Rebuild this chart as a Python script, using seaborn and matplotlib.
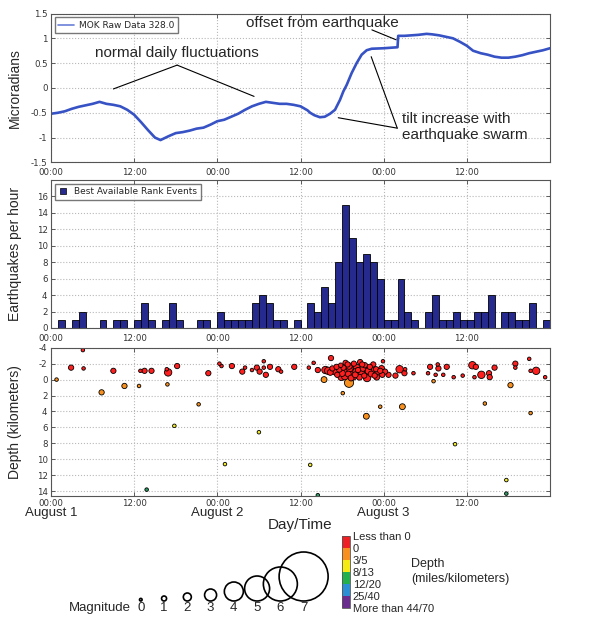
import numpy as np
import pandas as pd
import matplotlib
matplotlib.use("Agg")
import matplotlib.pyplot as plt
import seaborn as sns
from matplotlib.colors import ListedColormap, BoundaryNorm
from matplotlib.cm import ScalarMappable
from matplotlib.lines import Line2D

sns.set_theme(style="white")
plt.rcParams["font.family"] = ["Liberation Sans", "DejaVu Sans"]
plt.rcParams["axes.unicode_minus"] = False

# ---------------- data ----------------
tilt_hours = [0, 1, 2, 3, 4, 5, 6, 7, 8, 9, 10, 11, 12, 13, 14, 15, 15.8, 17, 18, 19, 20, 21, 22,
              23, 24, 25, 26, 27, 28, 29, 30, 31, 32, 33, 34, 35, 36, 37, 37.4, 38, 38.8, 39.5,
              40.26, 40.98, 41.7, 42.18, 42.66, 43.38, 44.1, 44.82, 45.55, 46.27, 48, 50.0,
              50.1, 51, 52, 53, 54.2, 55, 56, 57, 58, 59, 60, 60.9, 62, 63, 64, 65, 66, 67,
              68, 69, 70, 71, 72]
tilt_values = [-0.52, -0.50, -0.47, -0.42, -0.38, -0.35, -0.32, -0.28, -0.32, -0.34, -0.37, -0.44,
               -0.54, -0.69, -0.85, -1.00, -1.05, -0.97, -0.91, -0.89, -0.86, -0.82, -0.80,
               -0.74, -0.67, -0.64, -0.58, -0.52, -0.44, -0.37, -0.32, -0.28, -0.30, -0.32, -0.32,
               -0.34, -0.37, -0.45, -0.50, -0.55, -0.59, -0.58,
               -0.52, -0.44, -0.24, -0.07, 0.06, 0.30, 0.50, 0.67, 0.76, 0.79, 0.80, 0.82,
               1.05, 1.05, 1.06, 1.07, 1.09, 1.08, 1.06, 1.03, 1.00, 0.93, 0.85, 0.75, 0.70,
               0.67, 0.63, 0.61, 0.61, 0.63, 0.66, 0.70, 0.73, 0.76, 0.80]

hist_hours = list(range(72))
hist_counts = [0, 1, 0, 1, 2, 0, 0, 1, 0, 1, 1, 0, 1, 3, 1, 0, 1, 3, 1, 0, 0, 1, 1, 0,
               2, 1, 1, 1, 1, 3, 4, 3, 1, 1, 0, 1, 0, 3, 2, 5, 3, 8, 15, 11, 8, 9, 8, 6,
               1, 1, 6, 2, 1, 0, 2, 4, 1, 1, 2, 1, 1, 2, 2, 4, 0, 2, 2, 1, 1, 3, 0, 1]

eq_hours = [0.8, 2.9, 4.6, 4.7, 7.3, 9.0, 10.6, 12.7, 12.9, 13.5, 14.5, 13.8, 16.7, 16.9, 16.8,
            18.2, 17.8, 21.3, 22.7, 24.3, 24.6, 25.1, 26.1, 27.6, 28.0, 29.0, 29.7, 30.1, 30.7,
            30.7, 31.0, 31.6, 30.0, 32.8, 33.2, 35.1, 37.2, 37.9, 37.4, 38.5, 38.5, 39.4, 39.6,
            40.4, 43.0, 42.1, 45.5, 45.6, 47.5, 47.9, 48.7, 49.7, 50.3, 50.7, 51.0, 51.1, 52.3,
            54.4, 54.7, 55.2, 55.5, 55.8, 55.9, 56.6, 57.1, 58.1, 58.3, 59.4, 60.8, 61.3, 61.1,
            62.1, 63.2, 63.3, 62.6, 64.0, 65.7, 65.7, 66.3, 67.0, 67.0, 69.0, 69.2, 70.0, 69.2,
            71.3,
            40.0, 40.6, 41.0, 41.3, 41.6, 41.8, 42.0, 42.2, 42.4, 42.6, 42.8, 42.9, 43.1, 43.3,
            43.5, 43.7, 43.9, 44.1, 44.3, 44.6, 44.8, 45.0, 45.2, 45.8, 46.0, 46.2, 46.4, 46.7,
            46.9, 47.2, 47.5, 47.8,
            40.3, 41.2, 41.9, 42.5, 43.0, 43.6, 44.0, 44.5, 45.3, 45.5, 46.5, 47.0, 47.7, 48.2,
            44.9]
eq_depths = [0.0, -1.5, -3.7, -1.4, 1.6, -1.1, 0.8, 0.8, -1.1, -1.1, -1.1, 13.8, -1.3, -0.9, 0.6,
             -1.7, 5.8, 3.1, -0.8, -2.0, -1.7, 10.6, -1.7, -1.0, -1.5, -1.2, -1.5, -1.0, -2.3,
             -1.5, -0.6, -1.6, 6.6, -1.3, -1.0, -1.6, -1.5, -2.1, 10.7, -1.2, 14.5, 0.0, -1.2,
             -2.7, 0.4, 1.7, 4.6, -0.2, 3.4, -2.3, -0.6, -0.5, -1.3, 3.4, -0.8, -1.3, -0.8,
             -0.8, -1.6, 0.2, -0.6, -1.9, -1.4, -0.6, -1.6, -0.3, 8.1, -0.5, -1.8, -1.6, -0.3,
             -0.6, -0.8, -0.3, 3.0, -1.5, 12.6, 14.3, 0.7, -2.0, -1.5, -2.6, -1.1, -1.1, 4.2,
             -0.3,
             -1.1, -1.4, -1.0, -0.6, -1.3, -1.8, -0.8, -1.5, -0.4, -1.1, -1.9, -0.7, -1.4, -0.2,
             -1.0, -2.0, -0.6, -1.5, -1.2, -2.2, -0.9, -1.4, -0.5, -1.1, -1.6, -0.7, -1.2, -0.5,
             -1.3, -0.9, -1.1, -0.6,
             -0.9, -1.6, -0.3, -2.1, -1.7, -0.4, -1.0, -0.3, -1.8, -1.0, -1.9, -0.3, -1.4, -1.0,
             -1.9]
eq_mags = [0.4, 1.1, 0.4, 0.4, 1.1, 1.1, 1.1, 0.4, 0.4, 1.1, 1.1, 0.4, 0.4, 1.8, 0.4,
           1.1, 0.4, 0.4, 1.1, 0.4, 0.4, 0.4, 1.1, 1.1, 0.4, 0.4, 1.1, 1.1, 0.4,
           0.4, 1.1, 1.1, 0.4, 1.1, 0.4, 1.1, 0.4, 0.4, 0.4, 1.1, 0.4, 1.3, 1.8,
           1.1, 2.3, 0.4, 1.3, 1.8, 0.4, 0.4, 1.1, 1.1, 1.8, 1.3, 1.1, 0.4, 0.4,
           0.4, 1.1, 0.4, 0.4, 0.4, 1.1, 0.4, 1.1, 0.4, 0.4, 0.4, 1.8, 1.1, 0.4,
           1.8, 1.1, 1.1, 0.4, 1.1, 0.4, 0.4, 1.1, 1.1, 0.4, 0.4, 0.4, 1.8, 0.4,
           0.4,
           1.8, 1.1, 1.6, 1.1, 1.3, 0.8, 1.5, 1.1, 1.6, 1.8, 1.1, 1.3, 1.6, 1.3,
           1.8, 1.1, 1.3, 1.6, 1.1, 1.1, 1.5, 1.3, 1.1, 1.6, 1.1, 1.3, 1.6, 1.1,
           1.1, 1.5, 1.1, 1.1,
           1.3, 1.1, 1.6, 1.1, 1.5, 1.8, 1.5, 1.3, 1.1, 1.6, 1.1, 1.3, 1.3, 1.1,
           1.1]

legend_mags = [0, 1, 2, 3, 4, 5, 6, 7]
depth_classes = ["Less than 0", "0", "3/5", "8/13", "12/20", "25/40", "More than 44/70"]
depth_bins_km = [-100, 0, 5, 13, 20, 40, 70, 1000]
tick_hours = [0, 12, 24, 36, 48, 60]
tick_labels = ["00:00", "12:00", "00:00", "12:00", "00:00", "12:00"]
day_hours = [0, 24, 48]
day_labels = ["August 1", "August 2", "August 3"]

# ---------------- styles ----------------
mag_radius_px = [1.3, 2.5, 4.0, 6.0, 9.5, 12.5, 17.0, 24.5]
class_colors = ["#ff1f1f", "#f7901e", "#f3ec2c", "#2a9a62", "#2a8fd4", "#6b2c90"]
bar_colors = ["#ee2024", "#f7901e", "#f5ea14", "#21b04b", "#2a8fd4", "#6b2c90"]
grid_kw = dict(color="#b8b8b8", linestyle=":", linewidth=0.8)
tick_font = dict(family="DejaVu Sans", size=6.2)

W, H = 600, 622
fig = plt.figure(figsize=(W / 100, H / 100), dpi=100)


def px_axes(x0, y0, x1, y1):
    return fig.add_axes([x0 / W, 1 - y1 / H, (x1 - x0) / W, (y1 - y0) / H])


ax1 = px_axes(51, 13.5, 550, 162.4)
ax2 = px_axes(51, 180, 550, 328)
ax3 = px_axes(51, 347.7, 550, 496)


def style_axes(ax, xpad):
    ax.set_xlim(0, 72)
    ax.set_xticks(tick_hours)
    ax.set_xticklabels(tick_labels, **tick_font, color="#333333")
    for lab in ax.get_yticklabels():
        lab.set_fontfamily("DejaVu Sans")
        lab.set_fontsize(6.2)
        lab.set_color("#333333")
    ax.tick_params(direction="in", length=3, width=0.6, color="#444444",
                   left=True, right=True, bottom=True, top=True)
    ax.tick_params(axis="x", pad=xpad)
    ax.tick_params(axis="y", pad=2.5)
    ax.grid(True, **grid_kw)
    for s in ax.spines.values():
        s.set_color("#555555")
        s.set_linewidth(0.8)
    ax.set_axisbelow(True)


# ---- top panel: tilt ----
tilt_df = pd.DataFrame({"hour": tilt_hours, "tilt": tilt_values})
sns.lineplot(data=tilt_df, x="hour", y="tilt", ax=ax1, color="#3652c4", linewidth=1.9,
             estimator=None, sort=False)
ax1.set_ylim(-1.5, 1.5)
ax1.set_yticks([1.5, 1, 0.5, 0, -0.5, -1, -1.5])
ax1.set_yticklabels(["1.5", "1", "0.5", "0", "-0.5", "-1", "-1.5"])
ax1.set_xlabel("")
ax1.set_ylabel("Microradians", fontsize=10)
style_axes(ax1, 4)
ax1.legend(handles=[Line2D([], [], color="#6a7fd8", lw=1.2)], labels=["MOK Raw Data 328.0"],
           loc="upper left", frameon=True, fancybox=False, edgecolor="#555555",
           handlelength=1.8, handletextpad=0.5, borderaxespad=0.4,
           prop={"family": "DejaVu Sans", "size": 6.5})

ann = dict(arrowprops=dict(arrowstyle="-", lw=0.8, color="black", shrinkA=0, shrinkB=0))
fs_ann = 11
ax1.text(6.3, 0.71, "normal daily fluctuations", fontsize=fs_ann, va="center", ha="left")
ax1.annotate("", xy=(9.0, -0.02), xytext=(18.2, 0.46), **ann)
ax1.annotate("", xy=(29.3, -0.17), xytext=(18.2, 0.46), **ann)
ax1.text(28.2, 1.31, "offset from earthquake", fontsize=fs_ann, va="center", ha="left")
ax1.annotate("", xy=(49.8, 0.97), xytext=(46.3, 1.17), **ann)
ax1.text(50.7, -0.79, "tilt increase with\nearthquake swarm", fontsize=fs_ann, va="center",
         ha="left", linespacing=1.2)
ax1.annotate("", xy=(41.45, -0.60), xytext=(49.96, -0.81), **ann)
ax1.annotate("", xy=(46.2, 0.63), xytext=(49.96, -0.81), **ann)

# ---- middle panel: histogram ----
hist_df = pd.DataFrame({"hour": hist_hours, "count": hist_counts})
sns.histplot(data=hist_df, x="hour", weights="count", binwidth=1, binrange=(0, 72), ax=ax2,
             color="#262a8e", edgecolor="black", linewidth=0.6, alpha=1.0)
ax2.set_ylim(0, 18)
ax2.set_yticks([0, 2, 4, 6, 8, 10, 12, 14, 16])
ax2.set_yticklabels(["0", "2", "4", "6", "8", "10", "12", "14", "16"])
ax2.set_xlabel("")
ax2.set_ylabel("Earthquakes per hour", fontsize=10)
style_axes(ax2, 4)
ax2.legend(handles=[Line2D([], [], marker="s", color="#262a8e", markeredgecolor="black",
                           markeredgewidth=0.5, linestyle="none", markersize=5)],
           labels=["Best Available Rank Events"], loc="upper left", frameon=True,
           fancybox=False, edgecolor="#555555", handlelength=1.0, borderaxespad=0.4,
           prop={"family": "DejaVu Sans", "size": 6.5})

# ---- bottom panel: depth scatter ----
eq = pd.DataFrame({"hour": eq_hours, "depth": eq_depths, "mag": eq_mags})
eq["cls"] = pd.cut(eq["depth"], bins=depth_bins_km, labels=depth_classes[:-1] + ["x"], right=False)
eq["cls"] = eq["cls"].astype(str)
eq["area"] = (2 * np.interp(eq["mag"], legend_mags, mag_radius_px) * 0.72) ** 2
eq = eq.sort_values("area", ascending=False)
pal = dict(zip(depth_classes[:-1], class_colors))
amin, amax = eq["area"].min(), eq["area"].max()
sns.scatterplot(data=eq, x="hour", y="depth", hue="cls", palette=pal, size="area",
                sizes=(amin, amax), size_norm=(amin, amax), edgecolor="black", linewidth=0.6,
                alpha=1.0, legend=False, ax=ax3)
ax3.set_ylim(14.6, -4)
ax3.set_yticks(list(range(-4, 15, 2)))
ax3.set_yticklabels([str(v) for v in range(-4, 15, 2)])
ax3.set_xlabel("Day/Time", fontsize=11, labelpad=6.5)
ax3.set_ylabel("Depth (kilometers)", fontsize=10)
style_axes(ax3, 2.5)
for h, lab in zip(day_hours, day_labels):
    ax3.text(h, -0.075, lab, transform=ax3.get_xaxis_transform(), ha="center", va="top",
             fontsize=9.5)

for ax in (ax1, ax2, ax3):
    ax.yaxis.set_label_coords(-0.058, 0.5)

# ---- magnitude legend ----
lx0, lx1, ly0, ly1 = 60, 340, 540, 615
legax = px_axes(lx0, ly0, lx1, ly1)
slope, icpt = 23.26, 140.8
legax.set_xlim((lx0 - icpt) / slope, (lx1 - icpt) / slope)
legax.set_ylim(0, ly1 - ly0)
leg_df = pd.DataFrame({"mag": legend_mags, "r": mag_radius_px})
leg_df["yc"] = 14 + leg_df["r"]
leg_df["area"] = (2 * leg_df["r"] * 0.72) ** 2
sns.scatterplot(data=leg_df, x="mag", y="yc", size="area",
                sizes=(leg_df["area"].min(), leg_df["area"].max()),
                size_norm=(leg_df["area"].min(), leg_df["area"].max()),
                color="black", edgecolor="black", linewidth=1.2, legend=False, ax=legax)
legax.collections[0].set_facecolor("none")
for m in legend_mags:
    legax.text(m, 7, str(m), ha="center", va="center", fontsize=9.5)
legax.text(-0.42, 7, "Magnitude", ha="right", va="center", fontsize=9.5)
legax.axis("off")

# ---- depth colour bar ----
cax = px_axes(341.7, 535.7, 350, 608)
cmap = ListedColormap(bar_colors[::-1])
norm = BoundaryNorm(np.arange(0, 7), cmap.N)
cb = fig.colorbar(ScalarMappable(norm=norm, cmap=cmap), cax=cax, ticks=np.arange(0, 7))
cb.set_ticklabels(depth_classes[::-1])
cb.ax.tick_params(length=0, pad=2, labelsize=8)
cb.outline.set_edgecolor("#555555")
cb.outline.set_linewidth(0.6)
fig.text(411 / W, 1 - 564 / H, "Depth", fontsize=9, ha="left", va="center")
fig.text(411 / W, 1 - 579 / H, "(miles/kilometers)", fontsize=9, ha="left", va="center")

fig.savefig("out.png", dpi=100)
